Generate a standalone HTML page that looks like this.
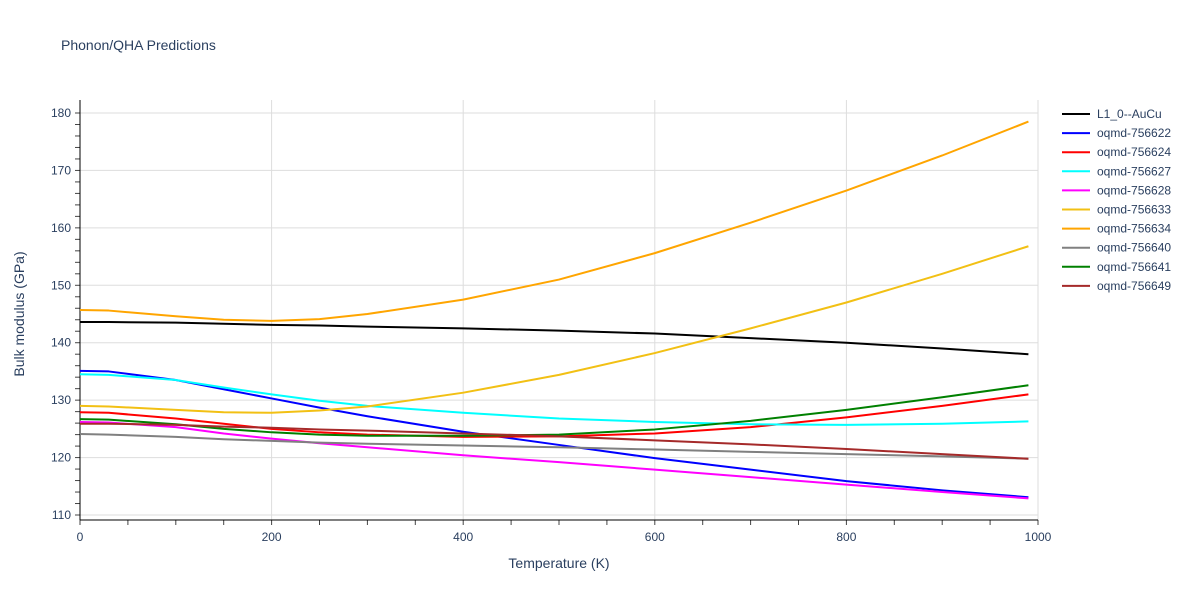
<!DOCTYPE html>
<html><head><meta charset="utf-8"><style>
body{margin:0;background:#fff;font-family:"Liberation Sans",sans-serif;}
svg text{font-family:"Liberation Sans",sans-serif;fill:#2a3f5f;}
</style></head><body>
<svg id="c" width="1200" height="600">
<text x="61" y="50" font-size="14">Phonon/QHA Predictions</text>
<g id="grid"></g><g id="axes"></g><g id="series"></g><g id="legend"></g>
<text x="559" y="568" font-size="14" text-anchor="middle">Temperature (K)</text>
<text transform="translate(24,314) rotate(-90)" font-size="14" text-anchor="middle">Bulk modulus (GPa)</text>
</svg>
<script>
const temps=[0,30,100,150,200,250,300,400,500,600,700,800,900,990];
const names=["L1_0--AuCu","oqmd-756622","oqmd-756624","oqmd-756627","oqmd-756628","oqmd-756633","oqmd-756634","oqmd-756640","oqmd-756641","oqmd-756649"];
const colors=["#000000","#0000ff","#ff0000","#00ffff","#ff00ff","#f2c014","#ffa500","#808080","#008000","#a52a2a"];
const s0=[143.6,143.6,143.5,143.3,143.1,143.0,142.8,142.5,142.1,141.6,140.8,140.0,139.0,138.0];
const s1=[135.1,135.0,133.5,131.9,130.3,128.7,127.2,124.5,122.2,119.9,117.9,115.9,114.3,113.1];
const s2=[127.9,127.8,126.8,125.9,125.0,124.4,124.0,123.6,123.7,124.2,125.3,127.0,129.0,131.0];
const s3=[134.5,134.4,133.5,132.2,131.0,129.9,129.0,127.8,126.8,126.2,125.8,125.7,125.9,126.3];
const s4=[126.2,126.1,125.3,124.2,123.3,122.5,121.8,120.4,119.2,117.9,116.6,115.3,114.0,112.9];
const s5=[129.0,128.9,128.3,127.9,127.8,128.2,128.9,131.3,134.4,138.2,142.5,147.0,152.0,156.8];
const s6=[145.7,145.6,144.6,144.0,143.8,144.1,145.0,147.5,151.0,155.6,160.9,166.5,172.6,178.5];
const s7=[124.1,124.0,123.6,123.2,122.9,122.6,122.4,122.1,121.8,121.4,121.0,120.6,120.2,119.8];
const s8=[126.7,126.6,125.8,125.0,124.4,124.0,123.8,123.8,124.0,124.9,126.4,128.3,130.5,132.6];
const s9=[125.9,125.9,125.7,125.4,125.2,124.9,124.7,124.2,123.7,123.0,122.3,121.5,120.6,119.8];
const xTicks=[0,200,400,600,800,1000];
const yTicks=[110,120,130,140,150,160,170,180];
const series=[s0,s1,s2,s3,s4,s5,s6,s7,s8,s9];
const X=v=>80+v*0.958, Y=v=>113+(180-v)*5.743;
const NS="http://www.w3.org/2000/svg";
function mk(t,a,p){const e=document.createElementNS(NS,t);for(const k in a)e.setAttribute(k,a[k]);p.appendChild(e);return e;}
const g=document.getElementById('grid'),ax=document.getElementById('axes'),sr=document.getElementById('series'),lg=document.getElementById('legend');
xTicks.forEach(t=>{const l=mk('line',{x1:X(t),x2:X(t),y1:100,y2:520,stroke:'#ddd'},g);

const tx=mk('text',{x:X(t),y:541,'font-size':12,'text-anchor':'middle'},ax);tx.textContent=t;
});
yTicks.forEach(t=>{const l=mk('line',{x1:80,x2:1038,y1:Y(t),y2:Y(t),stroke:'#ddd'},g);

const tx=mk('text',{x:71,y:Y(t)+4,'font-size':12,'text-anchor':'end'},ax);tx.textContent=t;
});
for(let v=110;v<=180;v+=2){mk('line',{x1:75,x2:80,y1:Y(v),y2:Y(v),stroke:'#444'},ax);}
for(let v=0;v<=1000;v+=50){mk('line',{x1:X(v),x2:X(v),y1:520,y2:525,stroke:'#444'},ax);}
const a1=mk('line',{x1:80,x2:80,y1:100,y2:520,stroke:'#000'},ax);
const a2=mk('line',{x1:80,x2:1038,y1:520,y2:520,stroke:'#000'},ax);
series.forEach((s,i)=>{
const p=mk('polyline',{points:s.map((v,j)=>X(temps[j])+','+Y(v)).join(' '),fill:'none',stroke:colors[i],'stroke-width':2,'stroke-linejoin':'round'},sr);

const y=114+i*19.1;
const ll=mk('line',{x1:1062,x2:1090,y1:y,y2:y,stroke:colors[i],'stroke-width':2},lg);

const t=mk('text',{x:1097,y:y+4,'font-size':12},lg);t.textContent=names[i];
});
</script>
</body></html>
